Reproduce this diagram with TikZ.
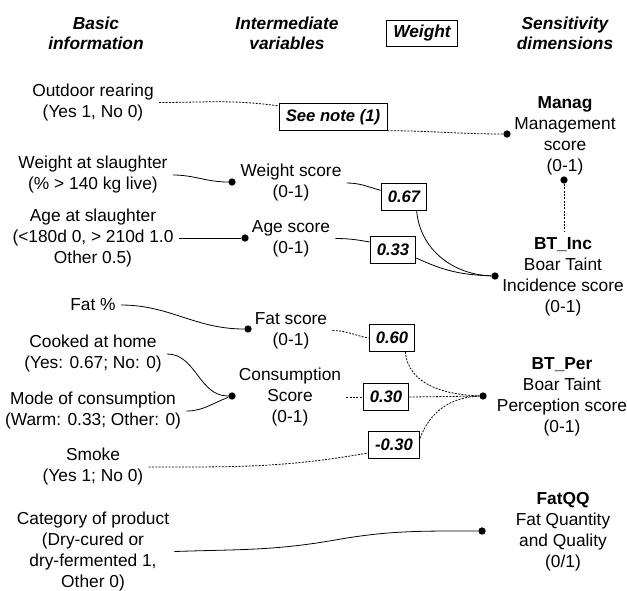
\documentclass[tikz,border=0pt]{standalone}
\usepackage{fontspec}
\setmainfont{Liberation Sans}

\begin{document}
\begin{tikzpicture}[x=0.75pt,y=-0.75pt,line width=0.6pt,
  txt/.style = {align=center, inner sep=1pt, outer sep=3pt, font=\fontsize{13}{15.75}\selectfont},
  head/.style = {txt, font=\fontsize{13}{15}\selectfont\bfseries\itshape},
  wbox/.style = {draw, inner xsep=5pt, inner ysep=2pt, minimum height=20pt, font=\fontsize{12.5}{14}\selectfont\bfseries\itshape},
  pt/.style = {circle, fill, inner sep=0pt, minimum size=5.5pt},
  dsh/.style = {dash pattern=on 1.5pt off 1pt}]
\useasboundingbox (0,0) rectangle (627,590);
\node[head] (basic) at (96,33) {Basic\\information};
\node[head] (inter) at (287,33) {Intermediate\\variables};
\node[wbox,font=\fontsize{13}{15}\selectfont\bfseries\itshape] (weight) at (422,33.5) {Weight};
\node[head] (sens) at (565,33) {Sensitivity\\dimensions};
\node[txt] (outdoor) at (93,102.5) {Outdoor rearing\\(Yes 1, No 0)};
\node[wbox] (note) at (333,117) {See note (1)};
\node[pt] (managdot) at (507,134) {};
\node[txt] (manag) at (565,136) {\textbf{Manag}\\Management\\score\\(0-1)};
\node[pt] (incup) at (564,180) {};
\node[txt] (wslaugh) at (93,175) {Weight at slaughter\\(\% > 140 kg live)};
\node[pt] (wdot) at (232,182) {};
\node[txt] (wscore) at (291,183) {Weight score\\(0-1)};
\node[wbox] (w67) at (404,197) {0.67};
\node[txt] (aslaugh) at (93,238) {Age at slaughter\\(<180d 0, > 210d 1.0\\Other 0.5)};
\node[pt] (adot) at (245,238) {};
\node[txt] (ascore) at (291,238.5) {Age score\\(0-1)};
\node[wbox] (w33) at (393,250) {0.33};
\node[pt] (incdot) at (495,276) {};
\node[txt] (inc) at (563,276.5) {\textbf{BT\_Inc}\\Boar Taint\\Incidence score\\(0-1)};
\node[txt] (fat) at (93,305) {Fat \%};
\node[pt] (fdot) at (248,329) {};
\node[txt] (fscore) at (291,330.5) {Fat score\\(0-1)};
\node[wbox] (w60) at (392,338) {0.60};
\node[txt] (cooked) at (93,354) {Cooked at home\\(Yes: 0.67; No: 0)};
\node[txt] (mode) at (93,411) {Mode of consumption\\(Warm: 0.33; Other: 0)};
\node[pt] (cdot) at (232,396) {};
\node[txt] (cscore) at (290,397) {Consumption\\Score\\(0-1)};
\node[wbox] (w30) at (386,397) {0.30};
\node[pt] (perdot) at (483,396) {};
\node[txt] (per) at (562,396.5) {\textbf{BT\_Per}\\Boar Taint\\Perception score\\(0-1)};
\node[txt] (smoke) at (93,467) {Smoke\\(Yes 1; No 0)};
\node[wbox] (wm30) at (394,445) {-0.30};
\node[txt] (cat) at (93,551.5) {Category of product\\(Dry-cured or\\dry-fermented 1,\\Other 0)};
\coordinate (kink) at (335,540);
\node[pt] (fqdot) at (482,531) {};
\node[txt] (fatqq) at (563,531.5) {\textbf{FatQQ}\\Fat Quantity\\and Quality\\(0/1)};
\draw[dsh] (outdoor.east) to[out=0,in=172] ([yshift=-2pt]note.north west);
\draw[dsh] (note.south east) to[out=0,in=180] (managdot);
\draw[dsh] (incup) -- (inc.north -| incup);
\draw (wslaugh.east) to[out=0,in=180] (wdot);
\draw (wscore.east) to[out=0,in=165] ([yshift=5pt]w67.west);
\draw ([xshift=-8pt]w67.south east) to[out=-85,in=178] (incdot);
\draw (aslaugh.east) -- (adot);
\draw (ascore.east) to[out=0,in=170] ([yshift=6pt]w33.west);
\draw ([yshift=-6pt]w33.east) to[out=-25,in=178] (incdot);
\draw (fat.east) to[out=0,in=180] (fdot);
\draw[dsh] (fscore.east) to[out=0,in=170] (w60.west);
\draw[dsh] ([xshift=10pt]w60.south) to[out=-85,in=178] (perdot);
\draw (cooked.east) to[out=0,in=180] (cdot);
\draw (mode.east) to[out=0,in=200] (cdot);
\draw[dsh] (cscore.east) -- (w30.west);
\draw[dsh] (w30.east) -- (perdot);
\draw[dsh] (smoke.east) to[out=0,in=190] ([yshift=-6pt]wm30.west);
\draw[dsh] ([yshift=5pt]wm30.east) to[out=70,in=182] (perdot);
\draw (cat.east) to[out=2,in=190] (kink) to[out=10,in=180] (fqdot);
\end{tikzpicture}
\end{document}
